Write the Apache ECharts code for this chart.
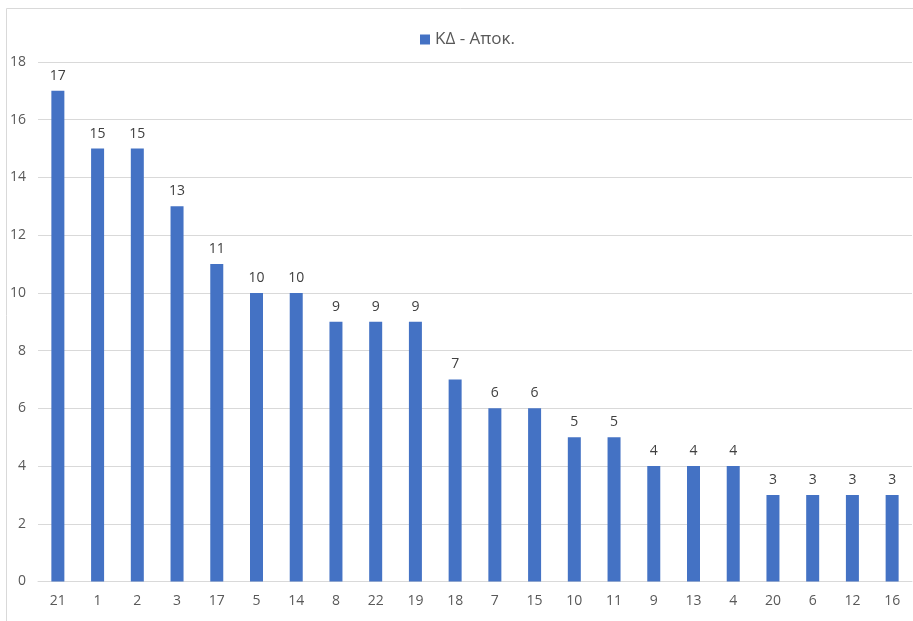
<!DOCTYPE html>
<html><head><meta charset="utf-8">
<script src="https://cdn.jsdelivr.net/npm/echarts@6/dist/echarts.min.js"></script>
<style>html,body{margin:0;padding:0;background:#fff}#c{width:913px;height:621px}</style>
</head><body><div id="c"></div>
<script>
const categories = ['21','1','2','3','17','5','14','8','22','19','18','7','15','10','11','9','13','4','20','6','12','16'];
const values = [17,15,15,13,11,10,10,9,9,9,7,6,6,5,5,4,4,4,3,3,3,3];
const seriesName = 'ΚΔ - Αποκ.';
const yTicks = {min:0, max:18, interval:2};

const chart = echarts.init(document.getElementById('c'), null, {renderer:'canvas'});
const font = '"Open Sans", "Noto Sans", sans-serif';
chart.setOption({
  animation:false,
  textStyle:{fontFamily:font},
  graphic:[{type:'rect', shape:{x:6.5,y:8.5,width:940,height:640}, style:{fill:null, stroke:'#d9d9d9', lineWidth:1}, silent:true, z:-1}],
  legend:{data:[seriesName], top:26, left:415, itemWidth:10, itemHeight:10, icon:'rect', itemGap:8,
    textStyle:{color:'#595959', fontSize:17, fontFamily:font}},
  grid:{left:38, right:1, top:62, bottom:39.5, containLabel:false},
  xAxis:{type:'category', data:categories,
    axisLine:{lineStyle:{color:'#d9d9d9', width:1}}, axisTick:{show:false},
    axisLabel:{color:'#595959', fontSize:14, margin:13, fontFamily:font}},
  yAxis:{type:'value', min:yTicks.min, max:yTicks.max, interval:yTicks.interval,
    axisLine:{show:false}, axisTick:{show:false},
    splitLine:{lineStyle:{color:'#d9d9d9', width:1}},
    axisLabel:{color:'#595959', fontSize:14, margin:12, fontFamily:font}},
  series:[{name:seriesName, type:'bar', data:values, barWidth:13,
    itemStyle:{color:'#4472c4'},
    label:{show:true, position:'top', distance:8, color:'#404040', fontSize:14, fontFamily:font}}]
});
</script></body></html>
